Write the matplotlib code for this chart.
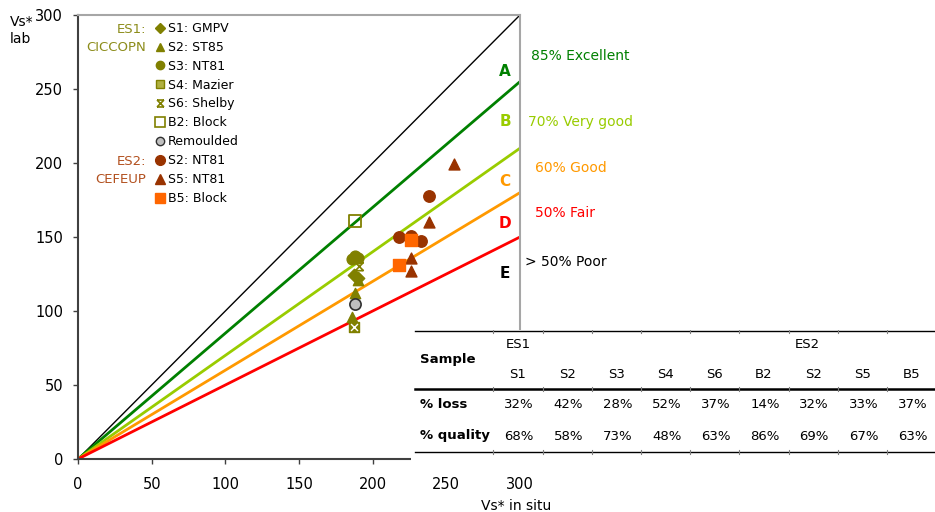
import numpy as np
import matplotlib
matplotlib.use('Agg')
import matplotlib.pyplot as plt
from matplotlib.path import Path
from matplotlib.lines import Line2D
from matplotlib.patches import Rectangle

plt.rcParams['font.family'] = ['DejaVu Sans']

# ---- data (Vs* in situ, Vs* lab) ----
es1_s1_x = [187, 190]
es1_s1_y = [124, 122]
es1_s2_x = [190, 188, 186]
es1_s2_y = [121, 112, 96]
es1_s3_x = [186, 188, 190]
es1_s3_y = [135, 137, 136]
es1_s4_x = [187]
es1_s4_y = [89]
es1_s6_x = [191]
es1_s6_y = [130]
es1_b2_x = [188]
es1_b2_y = [161]
remould_x = [188]
remould_y = [105]
es2_s2_x = [218, 226, 233, 238]
es2_s2_y = [150, 151, 147, 178]
es2_s5_x = [255, 238, 226, 226]
es2_s5_y = [199, 160, 136, 127]
es2_b5_x = [226, 218]
es2_b5_y = [148, 131]

# quality lines
ratios = [1.0, 0.85, 0.70, 0.60, 0.50]
line_cols = ['black', '#008000', '#99CC00', '#FF9900', '#FF0000']
line_w = [1.0, 2.0, 2.0, 2.0, 2.0]

# table
tab_cols = ['S1', 'S2', 'S3', 'S4', 'S6', 'B2', 'S2', 'S5', 'B5']
tab_loss = ['32%', '42%', '28%', '52%', '37%', '14%', '32%', '33%', '37%']
tab_qual = ['68%', '58%', '73%', '48%', '63%', '86%', '69%', '67%', '63%']

olive = '#808000'
brown = '#993300'
orange = '#FF6600'

# shelby marker: x with bars top and bottom
shelby = Path([(-1, 1), (1, -1), (-1, -1), (1, 1), (-1, 1), (1, 1), (-1, -1), (1, -1)],
              [Path.MOVETO, Path.LINETO, Path.MOVETO, Path.LINETO, Path.MOVETO, Path.LINETO, Path.MOVETO, Path.LINETO])

fig = plt.figure(figsize=(9.35, 5.12), dpi=100)
ax = fig.add_axes([78/935, 1-459/512, (520-78)/935, (459-15)/512])

xx = np.array([0, 300])
for r, c, w in zip(ratios, line_cols, line_w):
    ax.plot(xx, r*xx, color=c, lw=w, zorder=2)

ax.scatter(es1_s3_x, es1_s3_y, marker='o', s=60, color=olive, zorder=3)
ax.scatter(es1_s1_x, es1_s1_y, marker='D', s=40, color=olive, zorder=3)
ax.scatter(es1_s2_x, es1_s2_y, marker='^', s=55, color=olive, zorder=3)
ax.scatter(es1_s4_x, es1_s4_y, marker='s', s=50, color=olive, zorder=3)
ax.scatter(es1_s4_x, es1_s4_y, marker='x', s=25, color='white', lw=1, zorder=4)
ax.scatter(es1_s6_x, es1_s6_y, marker=shelby, s=35, facecolor='none', edgecolor=olive, lw=1.2, zorder=3)
ax.scatter(es1_b2_x, es1_b2_y, marker='s', s=75, facecolor='none', edgecolor=olive, lw=1.3, zorder=3)
ax.scatter(remould_x, remould_y, marker='o', s=65, color='#C0C0C0', edgecolor='#303030', lw=1.2, zorder=4)
ax.scatter(es2_s2_x, es2_s2_y, marker='o', s=68, color=brown, zorder=3)
ax.scatter(es2_s5_x, es2_s5_y, marker='^', s=62, color=brown, zorder=3)
ax.scatter(es2_b5_x, es2_b5_y, marker='s', s=68, color=orange, zorder=4)

ax.set_xlim(0, 300)
ax.set_ylim(0, 300)
ax.set_xticks(range(0, 301, 50))
ax.set_yticks(range(0, 301, 50))
ax.tick_params(labelsize=10.5, length=3.6, width=1, color='#404040')
ax.tick_params(axis='y', pad=7)
ax.tick_params(axis='x', pad=9.4)
for s in ['left', 'bottom']:
    ax.spines[s].set_color('#404040')
    ax.spines[s].set_linewidth(1.5)
for s in ['top', 'right']:
    ax.spines[s].set_color('#A6A6A6')
    ax.spines[s].set_linewidth(1.5)

fig.text(10/935, 1-15/512, 'Vs*\nlab', fontsize=10, va='top', ha='left', linespacing=1.25)
fig.text(516/935, 1-506/512, 'Vs* in situ', fontsize=10, va='center', ha='center')

# legend
h = [Line2D([], [], ls='none', marker='D', ms=5, color=olive),
     Line2D([], [], ls='none', marker='^', ms=6, color=olive),
     Line2D([], [], ls='none', marker='o', ms=6, color=olive),
     Line2D([], [], ls='none', marker='s', ms=6, color=olive, mfc='#B0B040'),
     Line2D([], [], ls='none', marker=shelby, ms=5, mfc='none', mec=olive, mew=1.2),
     Line2D([], [], ls='none', marker='s', ms=7, mfc='none', mec=olive, mew=1.2),
     Line2D([], [], ls='none', marker='o', ms=6, mfc='#C0C0C0', mec='#303030', mew=1),
     Line2D([], [], ls='none', marker='o', ms=7, color=brown),
     Line2D([], [], ls='none', marker='^', ms=7, color=brown),
     Line2D([], [], ls='none', marker='s', ms=7, color=orange)]
labs = ['S1: GMPV', 'S2: ST85', 'S3: NT81', 'S4: Mazier', 'S6: Shelby', 'B2: Block',
        'Remoulded', 'S2: NT81', 'S5: NT81', 'B5: Block']
ax.legend(h, labs, loc='upper left', bbox_to_anchor=(156/935, 1-22/512), bbox_transform=fig.transFigure,
          frameon=False, fontsize=9, handlelength=0.6, handletextpad=0.35, labelspacing=0.47,
          borderpad=0, borderaxespad=0)

fig.text(146/935, 1-38.5/512, 'ES1:\nCICCOPN', color='#8C8C1A', fontsize=9.5, ha='right', va='center',
         multialignment='right', linespacing=1.55)
fig.text(146/935, 1-170.5/512, 'ES2:\nCEFEUP', color='#B2501E', fontsize=9.5, ha='right', va='center',
         multialignment='right', linespacing=1.55)

# class labels
cls = [('A', '#008000', 72, '85% Excellent', 531, 56),
       ('B', '#99CC00', 122, '70% Very good', 528, 122),
       ('C', '#FF9900', 182, '60% Good', 535, 168),
       ('D', '#FF0000', 223, '50% Fair', 535, 213),
       ('E', 'black', 273, '> 50% Poor', 525, 262)]
for let, c, ly, txt, tx, ty in cls:
    fig.text(505/935, 1-ly/512, let, color=c, fontsize=11, fontweight='bold', ha='center', va='center')
    fig.text(tx/935, 1-ty/512, txt, color=c, fontsize=10, ha='left', va='center')

# table over the chart
tb = fig.add_axes([411/935, 1-468/512, (935-411)/935, (468-330)/512])
tb.set_xlim(411, 935)
tb.set_ylim(468, 330)
tb.axis('off')
tb.add_patch(Rectangle((411, 330), 524, 138, color='white', zorder=0))
tb.plot([415, 935], [331, 331], color='black', lw=1)
tb.plot([415, 935], [389, 389], color='black', lw=1.8)
tb.plot([415, 935], [452, 452], color='black', lw=1)
col_x = [518 + 49.2*i for i in range(len(tab_cols))]
for i in range(len(tab_cols)):
    bx = col_x[i] - 24.6
    for yl in [331, 389, 452]:
        tb.plot([bx, bx], [yl - 2, yl + 2], color='#808080', lw=0.8)
tb.text(420, 359, 'Sample', fontsize=9.5, fontweight='bold', va='center', ha='left')
tb.text(420, 405, '% loss', fontsize=9.5, fontweight='bold', va='center', ha='left')
tb.text(420, 436, '% quality', fontsize=9.5, fontweight='bold', va='center', ha='left')
tb.text(col_x[0], 345, 'ES1', fontsize=9.5, va='center', ha='center')
tb.text(col_x[6] - 6, 345, 'ES2', fontsize=9.5, va='center', ha='center')
for i in range(len(tab_cols)):
    tb.text(col_x[i], 375, tab_cols[i], fontsize=9.5, va='center', ha='center')
    tb.text(col_x[i] + 1, 405, tab_loss[i], fontsize=9.5, va='center', ha='center')
    tb.text(col_x[i] + 1, 436, tab_qual[i], fontsize=9.5, va='center', ha='center')

plt.savefig('out.png', dpi=100)
